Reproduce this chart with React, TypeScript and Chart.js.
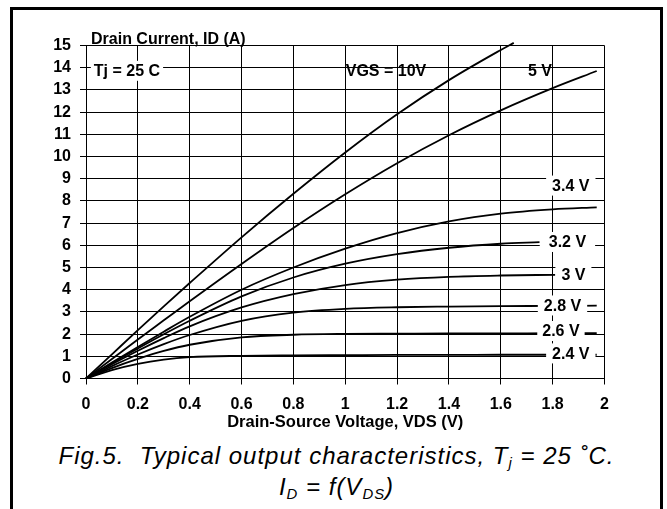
import React, { useEffect, useRef } from "react";
import { Chart, registerables } from "chart.js";

Chart.register(...registerables);

// ---- data ----
const vdsGrid = [0, 0.1, 0.2, 0.3, 0.4, 0.6, 0.8, 1.0, 1.2, 1.4, 1.6, 1.8, 1.97];
const vdsGrid10 = [0, 0.1, 0.2, 0.3, 0.4, 0.6, 0.8, 1.0, 1.2, 1.4, 1.6, 1.65];
const vdsGrid32 = [0, 0.1, 0.2, 0.3, 0.4, 0.6, 0.8, 1.0, 1.2, 1.4, 1.6, 1.75];
const vdsGrid30 = [0, 0.1, 0.2, 0.3, 0.4, 0.6, 0.8, 1.0, 1.2, 1.4, 1.6, 1.81];

const id10 = [0, 1.09, 2.18, 3.25, 4.3, 6.36, 8.32, 10.18, 11.9, 13.44, 14.8, 15.12];
const id5 = [0, 0.88, 1.76, 2.62, 3.48, 5.16, 6.78, 8.3, 9.7, 10.96, 12.08, 13.08, 13.85];
const id34 = [0, 0.72, 1.42, 2.11, 2.78, 4.0, 5.0, 5.85, 6.55, 7.08, 7.43, 7.62, 7.71];
const id32 = [0, 0.69, 1.35, 1.99, 2.6, 3.7, 4.55, 5.17, 5.6, 5.89, 6.07, 6.14];
const id30 = [0, 0.64, 1.25, 1.82, 2.35, 3.2, 3.8, 4.21, 4.45, 4.58, 4.64, 4.67];
const id28 = [0, 0.56, 1.08, 1.55, 1.96, 2.6, 2.97, 3.14, 3.21, 3.24, 3.26, 3.27, 3.28];
const id26 = [0, 0.47, 0.88, 1.24, 1.52, 1.85, 1.97, 2.01, 2.02, 2.03, 2.03, 2.04, 2.04];
const id24 = [0, 0.38, 0.66, 0.85, 0.96, 1.02, 1.04, 1.05, 1.06, 1.06, 1.07, 1.07, 1.07];

const seriesNames = ["VGS 10V", "5 V", "3.4 V", "3.2 V", "3 V", "2.8 V", "2.6 V", "2.4 V"];
const seriesX = [vdsGrid10, vdsGrid, vdsGrid, vdsGrid32, vdsGrid30, vdsGrid, vdsGrid, vdsGrid];
const seriesY = [id10, id5, id34, id32, id30, id28, id26, id24];

// in-plot annotations (anchored in data units)
const labelTexts = ["VGS = 10V", "5 V", "3.4 V", "3.2 V", "3 V", "2.8 V", "2.6 V", "2.4 V", "Tj = 25 C"];
const labelVds = [1.157, 1.751, 1.87, 1.857, 1.88, 1.838, 1.832, 1.87, 0.158];
const labelId = [13.87, 13.87, 8.69, 6.15, 4.68, 3.29, 2.14, 1.13, 13.86];
const labelBoxed = [false, false, true, true, true, true, true, true, true];
const labelPad = [0, 0, 6, 9, 6, 6, 5, 6, 3];

const xTitle = "Drain-Source Voltage, VDS (V)";
const yTitle = "Drain Current, ID (A)";

const FONT = "'Liberation Sans', Arial, Helvetica, sans-serif";

const annotPlugin = {
  id: "annot",
  afterDatasetsDraw(chart: any) {
    const { ctx, chartArea, scales } = chart;
    ctx.save();
    ctx.font = `bold 16px ${FONT}`;
    ctx.textAlign = "center";
    ctx.textBaseline = "middle";
    labelTexts.forEach((t, i) => {
      const px = scales.x.getPixelForValue(labelVds[i]);
      const py = scales.y.getPixelForValue(labelId[i]);
      const w = ctx.measureText(t).width;
      if (labelBoxed[i]) {
        ctx.fillStyle = "#fff";
        ctx.fillRect(px - w / 2 - labelPad[i], py - 10, w + 2 * labelPad[i], 20);
      }
      ctx.fillStyle = "#000";
      ctx.fillText(t, px, py + 1);
    });
    ctx.textBaseline = "alphabetic";
    ctx.textAlign = "left";
    ctx.fillText(yTitle, chartArea.left + 5, chartArea.top - 2);
    ctx.textAlign = "center";
    ctx.font = `bold 16.5px ${FONT}`;
    ctx.fillText(xTitle, (chartArea.left + chartArea.right) / 2, chartArea.bottom + 48);
    ctx.restore();
  },
};

function OutputChart() {
  const ref = useRef<HTMLCanvasElement | null>(null);
  useEffect(() => {
    if (!ref.current) return;
    const datasets = seriesNames.map((name, si) => ({
      label: name,
      data: seriesX[si].map((x, i) => ({ x, y: seriesY[si][i] })),
      borderColor: "#000",
      borderWidth: 1.8,
      pointRadius: 0,
      fill: false,
      cubicInterpolationMode: "monotone" as const,
      clip: false as any,
    }));
    const chart = new Chart(ref.current, {
      type: "line",
      data: { datasets },
      plugins: [annotPlugin],
      options: {
        animation: false,
        responsive: false,
        devicePixelRatio: 1,
        layout: { padding: { left: 0, top: 45.5, right: 62.5, bottom: 0 } },
        plugins: { legend: { display: false }, tooltip: { enabled: false }, title: { display: false } },
        font: { family: FONT },
        scales: {
          x: {
            type: "linear",
            min: 0,
            max: 2,
            afterFit: (a: any) => {
              a.height = 61.5;
            },
            ticks: {
              stepSize: 0.2,
              padding: 10,
              color: "#000",
              font: { family: FONT, size: 16, weight: "bold" },
              maxRotation: 0,
              autoSkip: false,
              callback: (v: any) => Number(v).toFixed(1).replace(/\.0$/, ""),
            },
            grid: { color: "#000", lineWidth: 1, tickLength: 6, tickColor: "#000", drawTicks: true },
            border: { color: "#000", width: 1 },
          },
          y: {
            type: "linear",
            min: 0,
            max: 15,
            afterFit: (a: any) => {
              a.width = 86;
            },
            ticks: {
              stepSize: 1,
              padding: 9,
              color: "#000",
              font: { family: FONT, size: 16, weight: "bold" },
              autoSkip: false,
            },
            grid: { color: "#000", lineWidth: 1, tickLength: 6, tickColor: "#000", drawTicks: true },
            border: { color: "#000", width: 1 },
          },
        },
      } as any,
    });
    return () => chart.destroy();
  }, []);
  return (
    <canvas
      ref={ref}
      width={667}
      height={440}
      style={{ position: "absolute", left: 0, top: 0, width: 667, height: 440 }}
    />
  );
}

export default function App() {
  const sub: React.CSSProperties = { fontSize: "0.62em", verticalAlign: "-0.3em", lineHeight: 0 };
  return (
    <div
      style={{
        position: "fixed",
        left: 0,
        top: 0,
        width: 667,
        height: 509,
        overflow: "hidden",
        background: "#fff",
      }}
    >
      <div
        style={{
          position: "absolute",
          left: 10,
          top: 7,
          width: 653,
          height: 540,
          boxSizing: "border-box",
          border: "3px solid #000",
        }}
      />
      <OutputChart />
      <div
        style={{
          position: "absolute",
          left: 10,
          top: 440,
          width: 653,
          textAlign: "center",
          fontFamily: FONT,
          fontStyle: "italic",
          fontSize: 24,
          letterSpacing: "1px",
          lineHeight: "31px",
          color: "#000",
          whiteSpace: "pre",
        }}
      >
        <div>
          {"Fig.5.  Typical output characteristics, T"}
          <span style={sub}>j</span>
          {" = 25 ˚C."}
        </div>
        <div>
          {"I"}
          <span style={sub}>D</span>
          {" = f(V"}
          <span style={sub}>DS</span>
          {")"}
        </div>
      </div>
    </div>
  );
}
